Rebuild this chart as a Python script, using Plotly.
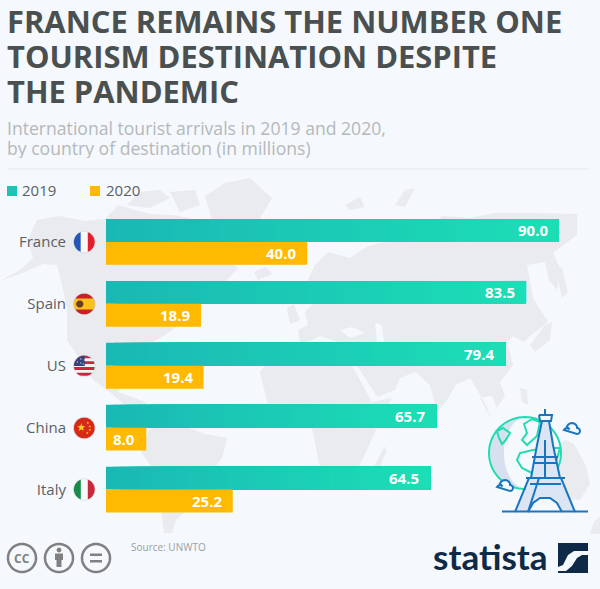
#!/usr/bin/python
# -*- coding: UTF-8 -*-
import math
import plotly.graph_objects as go

# chart data
countries = ['France', 'Spain', 'US', 'China', 'Italy']
arrivals_2019 = [90.0, 83.5, 79.4, 65.7, 64.5]
arrivals_2020 = [40.0, 18.9, 19.4, 8.0, 25.2]
title_lines = ['FRANCE REMAINS THE NUMBER ONE', 'TOURISM DESTINATION DESPITE', 'THE PANDEMIC']
subtitle_lines = ['International tourist arrivals in 2019 and 2020,', 'by country of destination (in millions)']

W = 600
H = 589
FONT = 'Open Sans'
BG = '#f5f8fc'
TEAL_LEFT = (26, 184, 180)
TEAL_RIGHT = (28, 222, 182)
AMBER = '#ffb900'
STEPS = 48

# decoration outlines, in picture pixels
land_shapes = [
	# north america
	[(0,281),(20,270),(33,258),(28,240),(37,220),(60,216),(85,221),(105,219),(118,205),(135,210),(150,214),(172,215),(190,218),(200,232),(212,246),(238,268),(225,282),(205,292),(196,305),(182,322),(172,330),(160,338),(147,345),(140,360),(135,375),(125,382),(118,392),(135,398),(145,402),(150,410),(162,424),(150,428),(132,412),(110,392),(93,380),(77,355),(67,340),(67,308),(62,285),(57,265),(43,264),(25,272)],
	[(127,205),(140,192),(160,190),(170,198),(150,208)],
	[(170,192),(195,190),(200,205),(180,212)],
	# greenland
	[(205,196),(225,183),(250,178),(272,198),(258,222),(236,250),(222,280),(212,276),(208,250),(214,226)],
	# south america
	[(150,428),(178,424),(205,434),(227,438),(222,458),(204,482),(192,505),(176,520),(172,533),(164,533),(160,500),(154,470),(140,450)],
	# africa
	[(260,372),(270,358),(295,345),(330,350),(350,362),(372,402),(392,398),(378,425),(366,452),(352,480),(338,490),(326,490),(318,458),(312,428),(296,404),(268,405)],
	[(372,470),(385,446),(386,452),(378,472)],
	# eurasia
	[(300,342),(298,330),(308,325),(305,312),(318,298),(307,282),(315,265),(328,252),(350,258),(368,246),(395,240),(428,232),(442,216),(470,218),(495,213),(530,213),(577,214),(577,235),(553,253),(560,268),(557,290),(549,280),(545,262),(527,265),(533,298),(548,322),(530,336),(524,342),(513,336),(507,342),(513,365),(500,382),(505,396),(497,408),(492,396),(480,398),(492,420),(486,405),(470,378),(456,385),(447,400),(437,412),(430,385),(415,372),(400,378),(395,390),(375,398),(355,366),(340,345),(320,345)],
	# islands
	[(254,272),(266,267),(272,274),(258,280)],
	[(287,308),(294,304),(300,320),(290,324)],
	[(530,345),(545,325),(552,322),(550,340),(535,352)],
	[(555,266),(562,268),(568,292),(562,298)],
	[(520,388),(527,390),(528,405),(522,402)],
	[(395,205),(405,190),(415,188),(405,207)],
	[(345,205),(360,197),(365,207),(350,210)],
	[(492,428),(506,436),(530,440),(530,444),(504,442)],
	# australia
	[(524,462),(548,446),(566,440),(574,444),(586,466),(590,484),(580,500),(560,498),(540,490),(524,490)],
	[(594,522),(600,516),(600,534),(590,534)],
]
sea_shapes = [
	[(340,330),(352,327),(365,333),(350,338)],
	[(375,323),(382,325),(384,342),(377,342)],
	[(305,343),(320,336),(340,343),(355,350),(353,357),(320,352)],
	[(353,367),(358,367),(378,398),(373,400)],
]
eiffel_lines = [
	[(545,409),(545,416)],
	[(539,415),(552,415),(551,421),(540,421),(539,415)],
	[(542,421),(537,445),(531,478)],
	[(549,421),(553,445),(560,478)],
	[(545,440),(545,478)],
	[(532,457),(558,457)],
	[(534,463),(556,463)],
	[(526,478),(565,478)],
	[(530,484),(561,484)],
	[(529,478),(515,512)],
	[(561,478),(575,512)],
	[(502,511.5),(588,511.5)],
	[(528,512),(533,503),(540,498),(550,498),(557,503),(562,512)],
	[(539,478),(528,512)],
]
globe_land = [
	[(497,431),(503,428),(510,433),(505,441),(502,444),(499,438)],
	[(524,424),(532,419),(540,422),(537,436),(527,445),(522,440),(527,433)],
	[(517,460),(520,453),(533,450),(548,448),(560,448),(556,462),(548,470),(538,468),(532,473),(522,468)],
]


def px(x, y):
	return x / W, 1 - y / H


def path(points, close=True):
	coords = [px(p[0], p[1]) for p in points]
	d = 'M' + 'L'.join('%.5f,%.5f' % c for c in coords)
	return d + ('Z' if close else '')


def filled(points, color, layer='above'):
	return dict(type='path', path=path(points), fillcolor=color, line_width=0,
				xref='paper', yref='paper', layer=layer)


def stroked(points, color, width=2, close=False, fill='rgba(0,0,0,0)'):
	return dict(type='path', path=path(points, close), fillcolor=fill, line=dict(color=color, width=width),
				xref='paper', yref='paper', layer='above')


def disc(cx, cy, r, x0=-9999, x1=9999, y0=-9999, y1=9999):
	# circle clamped to a box, good enough for flag stripes
	pts = []
	for i in range(72):
		a = 2 * math.pi * i / 72
		pts.append((min(max(cx + r * math.cos(a), x0), x1), min(max(cy + r * math.sin(a), y0), y1)))
	return pts


def star(cx, cy, r):
	pts = []
	for i in range(10):
		a = -math.pi / 2 + math.pi * i / 5
		rr = r if i % 2 == 0 else r * 0.42
		pts.append((cx + rr * math.cos(a), cy + rr * math.sin(a)))
	return pts


def label(x, y, text, size, color, bold=False, anchor='left', family=FONT, height=None):
	return dict(x=x / W, y=1 - y / H, xref='paper', yref='paper', text=text, showarrow=False,
				xanchor=anchor, yanchor='middle', borderpad=0, borderwidth=0, height=height,
				font=dict(size=size, color=color, family=family, weight='bold' if bold else 'normal'))


def flag_shapes():
	r = 10.6
	cx = 84.3
	out = []
	# france
	cy = 242
	out.append(filled(disc(cx, cy, r, x1=cx - 3.5), '#2456b4'))
	out.append(filled(disc(cx, cy, r, x0=cx - 3.5, x1=cx + 3.5), '#f8f8f8'))
	out.append(filled(disc(cx, cy, r, x0=cx + 3.5), '#e0202e'))
	# spain
	cy = 304
	out.append(filled(disc(cx, cy, r), '#c8202a'))
	out.append(filled(disc(cx, cy, r, y0=cy - 5.5, y1=cy + 5.5), '#fbc21a'))
	out.append(filled(disc(cx - 4.5, cy, 3.6), '#6a3c1c'))
	# us
	cy = 366
	out.append(filled(disc(cx, cy, r), '#f4f4f4'))
	for k in range(4):
		top = cy - r + k * 5.8
		out.append(filled(disc(cx, cy, r, y0=top, y1=top + 2.9), '#c8283c'))
	out.append(filled(disc(cx, cy, r, x1=cx + 0.5, y1=cy), '#3a3f78'))
	for dx, dy in [(-7, -4), (-3.5, -7), (-3.5, -3), (0, -6), (-1, -2)]:
		out.append(filled(disc(cx + dx, cy + dy, 0.6), '#ffffff'))
	# china
	cy = 428
	out.append(filled(disc(cx, cy, r), '#d8281a'))
	out.append(filled(star(cx - 3, cy - 0.5, 4.2), '#fbd020'))
	for dx, dy in [(3.5, -5), (5.5, -1.5), (5.5, 2), (3, 5)]:
		out.append(filled(star(cx + dx, cy + dy, 1.4), '#fbd020'))
	# italy
	cy = 489.5
	out.append(filled(disc(cx, cy, r), '#f8f8f8'))
	out.append(filled(disc(cx, cy, r, x1=cx - 3.5), '#188a4a'))
	out.append(filled(disc(cx, cy, r, x0=cx + 3.5), '#c8283c'))
	for cy in [242, 304, 366, 428, 489.5]:
		out.append(stroked(disc(cx, cy, r + 0.2), '#d5d8dc', 0.7, True))
	return out


def cloud(x, y):
	# x,y is the left end of the base line
	pts = [(x, y - 4)]
	pts += [(x + 3 - 3 * math.cos(t / 6 * math.pi), y - 3 - 3 * math.sin(t / 6 * math.pi)) for t in range(1, 6)]
	pts += [(x + 8 - 5.5 * math.cos(t / 8 * math.pi), y - 5 - 6 * math.sin(t / 8 * math.pi)) for t in range(1, 8)]
	pts += [(x + 13 + 3 * math.sin(t / 6 * math.pi), y - 3 - 3 * math.cos(t / 6 * math.pi)) for t in range(0, 7)]
	return stroked(pts, '#1a75c0', 2, True, BG)


def icon_shapes():
	out = []
	# globe
	out.append(filled(disc(525, 453, 36), BG))
	pts = disc(525, 453, 35)
	crescent = [p for p in pts if p[0] < 525]
	crescent_in = [(525 - (525 - p[0]) * 0.6, p[1]) for p in reversed(crescent)]
	out.append(filled(crescent + crescent_in, '#d6e0ef'))
	out.append(stroked(disc(525, 453, 36), '#20dcb0', 2, True))
	for land in globe_land:
		out.append(stroked(land, '#20dcb0', 2, True))
	# tower
	out.append(filled([(542,421),(549,421),(560,478),(575,512),(562,512),(552,498),(538,498),(528,512),(515,512),(531,478)], '#dbe5f4'))
	for seg in eiffel_lines:
		out.append(stroked(seg, '#1a75c0', 2, False))
	out.append(cloud(564, 434))
	out.append(cloud(497, 491))
	return out


def cc_shapes():
	grey = '#808080'
	out = []
	for cx in [22, 59, 96]:
		out.append(stroked(disc(cx, 558, 14), grey, 2.5, True))
	# person
	out.append(filled(disc(59, 550, 2.4), grey))
	out.append(filled([(55,553.5),(63,553.5),(63,560),(61.5,560),(61.5,567),(56.5,567),(56.5,560),(55,560)], grey))
	# equals
	out.append(filled([(90,553.5),(102,553.5),(102,556),(90,556)], grey))
	out.append(filled([(90,560),(102,560),(102,562.5),(90,562.5)], grey))
	return out


def logo_shapes():
	navy = '#0f2a47'
	out = [filled([(558,543),(588,543),(588,573),(558,573)], navy)]
	out.append(filled([(588,551),(574,551),(568,555),(563,565),(558,567),(558,571),(566,571),(572,566),(577,558),(582,555),(588,555)], BG))
	return out


###########################################################################
#	figure
###########################################################################
fig = go.Figure()

# 2019 bars: each step runs to the bar end and the next one paints over it, which gives the gradient
for k in range(STEPS):
	t = k / (STEPS - 1)
	rgb = [round(a + (b - a) * t) for a, b in zip(TEAL_LEFT, TEAL_RIGHT)]
	steps_x = [v * (1 - k / STEPS) for v in arrivals_2019]
	steps_base = [v * k / STEPS for v in arrivals_2019]
	fig.add_trace(go.Bar(y=countries, x=steps_x, base=steps_base, orientation='h', width=0.37, offset=-0.37,
						 marker=dict(color='rgb(%d,%d,%d)' % tuple(rgb), line_width=0),
						 showlegend=False, hoverinfo='skip'))

fig.add_trace(go.Bar(y=countries, x=arrivals_2020, orientation='h', width=0.37, offset=0, name='2020',
					 marker=dict(color=AMBER, line_width=0), showlegend=False))

annotations = []
for i, line in enumerate(title_lines):
	annotations.append(label(7, 21.5 + i * 34.7, line, 30.9, '#4a4f4f', True, height=34))
for i, line in enumerate(subtitle_lines):
	annotations.append(label(7, 127 + i * 21, line, 17.6, '#b4b8bb', height=21))

annotations.append(label(22, 189.5, '2019', 15, '#5a6064'))
annotations.append(label(105.5, 189.5, '2020', 15, '#5a6064'))
annotations.append(label(131, 547, 'Source: UNWTO', 10, '#9a9ea1'))
annotations.append(label(22, 558, 'CC', 12, '#808080', True, 'center'))
annotations.append(label(433, 556, 'statista', 35, '#0f2a47', True, 'left', 'Lato'))

# value labels sit on the bars
for country, v19, v20 in zip(countries, arrivals_2019, arrivals_2020):
	for value, shift in [(v19, 11.5), (v20, -11.5)]:
		annotations.append(dict(x=value, y=country, xref='x', yref='y', text='%.1f' % value, showarrow=False,
								xanchor='right', yanchor='middle', xshift=-9, yshift=shift,
								font=dict(size=15, color='white', family=FONT, weight='bold')))

shapes = [filled(land, '#e9ebee', 'below') for land in land_shapes]
shapes += [filled(sea, BG, 'below') for sea in sea_shapes]
shapes.append(dict(type='line', x0=8 / W, x1=588 / W, y0=1 - 169 / H, y1=1 - 169 / H, xref='paper', yref='paper',
				   line=dict(color='#e3e6ea', width=1), layer='below'))
shapes.append(filled([(7,186),(17,186),(17,196),(7,196)], '#1cc4b4'))
shapes.append(filled([(90,186),(100,186),(100,196),(90,196)], AMBER))
shapes += flag_shapes() + icon_shapes() + cc_shapes() + logo_shapes()

fig.update_layout(
	width=W, height=H,
	margin=dict(l=0, r=0, t=0, b=0),
	paper_bgcolor=BG,
	plot_bgcolor='rgba(0,0,0,0)',
	barmode='overlay',
	showlegend=False,
	shapes=shapes,
	annotations=annotations,
	font=dict(family=FONT),
	xaxis=dict(domain=[106 / W, 1], range=[0, 494 / 5.03], visible=False),
	yaxis=dict(domain=[1 - 520.5 / H, 1 - 211 / H], categoryorder='array', categoryarray=countries,
			   autorange='reversed', showgrid=False, zeroline=False, showline=False, ticks='',
			   ticklabelstandoff=39, tickfont=dict(size=15, color='#5a6064', family=FONT)),
)

# the page default margin would push the figure off the window
fig.write_html("out.html", config=dict(displayModeBar=False),
			   post_script="document.body.style.margin='0';document.body.style.overflow='hidden';")
